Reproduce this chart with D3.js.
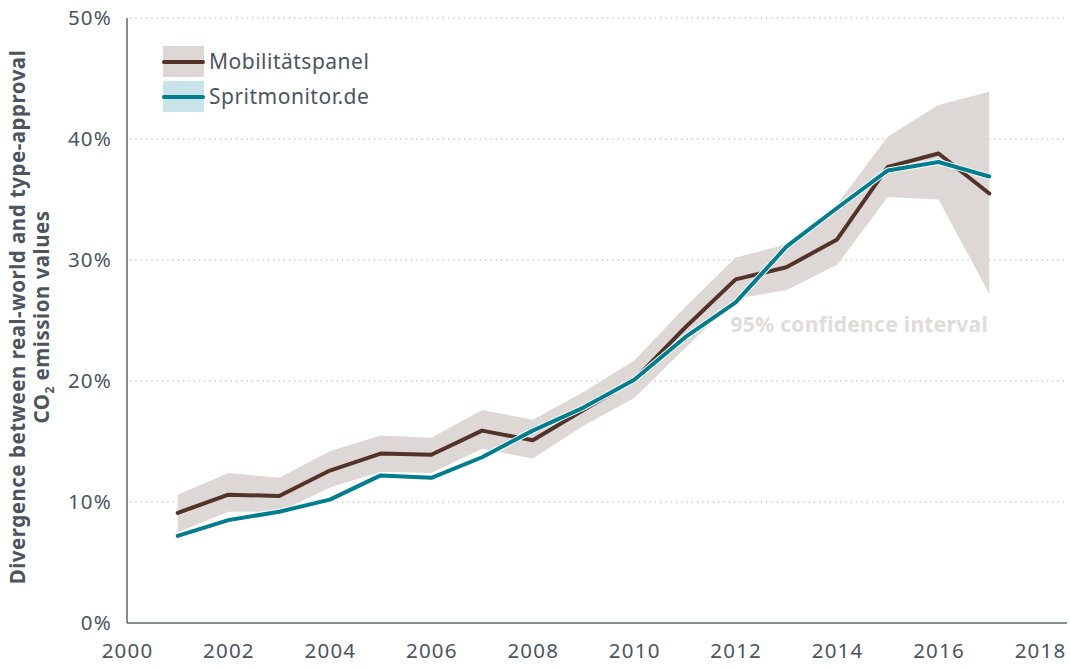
<!DOCTYPE html>
<html>
<head>
<meta charset="utf-8">
<script src="https://cdn.jsdelivr.net/npm/d3@7"></script>
<style>
  body { margin: 0; background: #fff; }
  svg { font-family: "Noto Sans", "Open Sans", sans-serif; }
</style>
</head>
<body>
<svg id="chart"></svg>
<script>
var years = [2001, 2002, 2003, 2004, 2005, 2006, 2007, 2008, 2009, 2010, 2011, 2012, 2013, 2014, 2015, 2016, 2017];
var mobilitaet = [9.1, 10.6, 10.5, 12.6, 14.0, 13.9, 15.9, 15.1, 17.6, 20.1, 24.4, 28.4, 29.4, 31.7, 37.7, 38.8, 35.5];
var ciUpper = [10.6, 12.4, 12.0, 14.2, 15.5, 15.3, 17.6, 16.8, 19.1, 21.7, 26.1, 30.2, 31.3, 34.6, 40.2, 42.8, 43.9];
var ciLower = [7.5, 9.2, 9.2, 11.2, 12.5, 12.4, 14.4, 13.6, 16.3, 18.6, 22.7, 26.8, 27.5, 29.6, 35.2, 35.0, 27.2];
var spritmonitor = [7.2, 8.5, 9.2, 10.2, 12.2, 12.0, 13.7, 15.9, 17.8, 20.1, 23.6, 26.5, 31.1, 34.3, 37.4, 38.1, 36.9];
var xTicks = [2000, 2002, 2004, 2006, 2008, 2010, 2012, 2014, 2016, 2018];
var yTicks = [0, 10, 20, 30, 40, 50];

var viewWidth = 1070;
var viewHeight = 669;
var margin = {top: 18, right: 30, bottom: 46, left: 127};

var brown = "#523329";
var teal = "#007d8f";
var band = "#ddd8d6";
var textColor = "#4a5560";

var svg = d3.select("#chart")
    .attr("width", viewWidth)
    .attr("height", viewHeight);

var x = d3.scaleLinear().domain([2000, 2018]).range([margin.left, 1040]);
var y = d3.scaleLinear().domain([0, 50]).range([viewHeight - margin.bottom, margin.top]);

var plotRight = viewWidth - 3;

// dotted gridlines
svg.append("g")
  .selectAll("line")
  .data(yTicks.filter(function(d) { return d > 0; }))
  .enter().append("line")
    .attr("x1", margin.left + 3)
    .attr("x2", plotRight)
    .attr("y1", function(d) { return y(d); })
    .attr("y2", function(d) { return y(d); })
    .attr("stroke", "#c8c8c8")
    .attr("stroke-width", 1.3)
    .attr("stroke-dasharray", "1.3,4");

// confidence band
var data = years.map(function(yr, i) {
  return {year: yr, m: mobilitaet[i], s: spritmonitor[i], lo: ciLower[i], hi: ciUpper[i]};
});

var area = d3.area()
  .x(function(d) { return x(d.year); })
  .y0(function(d) { return y(d.lo); })
  .y1(function(d) { return y(d.hi); });

svg.append("path")
  .datum(data)
  .attr("d", area)
  .attr("fill", band);

svg.append("text")
  .attr("x", 988)
  .attr("y", 332)
  .attr("text-anchor", "end")
  .attr("fill", "#e0dcd9")
  .attr("font-weight", "bold")
  .attr("font-size", 21)
  .attr("letter-spacing", 0.3)
  .text("95% confidence interval");

var lineM = d3.line()
  .x(function(d) { return x(d.year); })
  .y(function(d) { return y(d.m); });
var lineS = d3.line()
  .x(function(d) { return x(d.year); })
  .y(function(d) { return y(d.s); });

svg.append("path")
  .datum(data)
  .attr("d", lineM)
  .attr("fill", "none")
  .attr("stroke", brown)
  .attr("stroke-width", 4)
  .attr("stroke-linecap", "round")
  .attr("stroke-linejoin", "round");

// white halo under teal
svg.append("path")
  .datum(data)
  .attr("d", lineS)
  .attr("fill", "none")
  .attr("stroke", "#fff")
  .attr("stroke-width", 6)
  .attr("stroke-linejoin", "round");

svg.append("path")
  .datum(data)
  .attr("d", lineS)
  .attr("fill", "none")
  .attr("stroke", teal)
  .attr("stroke-width", 4)
  .attr("stroke-linecap", "round")
  .attr("stroke-linejoin", "round");

// axes
var xAxis = d3.axisBottom(x).tickValues(xTicks).tickFormat(d3.format("d")).tickSize(0).tickPadding(20);
var yAxis = d3.axisLeft(y).tickValues(yTicks).tickFormat(function(d) { return d + "%"; }).tickSize(0).tickPadding(15);

var gx = svg.append("g")
  .attr("transform", "translate(0," + y(0) + ")")
  .call(xAxis);
gx.select(".domain").remove();
gx.append("line")
  .attr("x1", margin.left).attr("x2", 1067)
  .attr("stroke", "#5b6670").attr("stroke-width", 1.5);

var gy = svg.append("g")
  .attr("transform", "translate(" + margin.left + ",0)")
  .call(yAxis);
gy.select(".domain").remove();
gy.append("line")
  .attr("y1", y(0)).attr("y2", margin.top)
  .attr("stroke", "#5b6670").attr("stroke-width", 1.5);

svg.selectAll(".tick text")
  .attr("fill", textColor)
  .attr("font-size", 20.5)
  .attr("letter-spacing", 1.2)
  .attr("font-family", "'Noto Sans', 'Open Sans', sans-serif");

// y axis title
var title = svg.append("text")
  .attr("transform", "translate(25,317) rotate(-90)")
  .attr("text-anchor", "middle")
  .attr("fill", textColor)
  .attr("font-weight", "bold")
  .attr("font-size", 20.5)
  .attr("letter-spacing", 0.5);
title.append("tspan").attr("x", 0).attr("y", 0).text("Divergence between real-world and type-approval");
var l2 = title.append("tspan").attr("x", 0).attr("y", 24);
l2.append("tspan").text("CO");
l2.append("tspan").attr("font-size", 12).attr("dy", 5).text("2");
l2.append("tspan").attr("dy", -5).text(" emission values");

// legend
var legendItems = [
  {label: "Mobilitätspanel", color: brown, bg: band},
  {label: "Spritmonitor.de", color: teal, bg: "#c9e4e8"}
];
var legend = svg.append("g").attr("transform", "translate(163,46)");
var li = legend.selectAll("g").data(legendItems).enter().append("g")
  .attr("transform", function(d, i) { return "translate(0," + (i * 35) + ")"; });
li.append("rect").attr("width", 41).attr("height", 31).attr("fill", function(d) { return d.bg; });
li.append("line").attr("x1", 1).attr("x2", 40).attr("y1", 16).attr("y2", 16)
  .attr("stroke", function(d) { return d.color; })
  .attr("stroke-width", 4).attr("stroke-linecap", "round");
li.append("text").attr("x", 46).attr("y", 23)
  .attr("fill", textColor).attr("font-size", 21)
  .attr("letter-spacing", 0.5)
  .text(function(d) { return d.label; });
</script>
</body>
</html>
